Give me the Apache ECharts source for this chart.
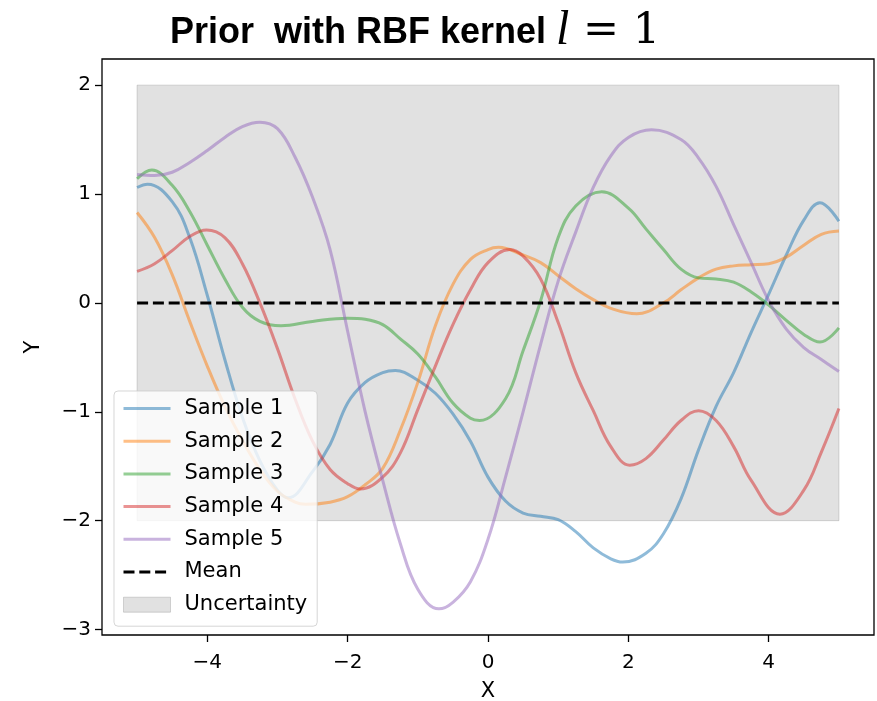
<!DOCTYPE html>
<html>
<head>
<meta charset="utf-8">
<script src="https://cdn.jsdelivr.net/npm/echarts@6/dist/echarts.min.js"></script>
<style>
  html, body { margin: 0; padding: 0; background: #fff; }
  #chart { width: 877px; height: 701px; }
</style>
</head>
<body>
<div id="chart"></div>
<script>
// Five prior draws, each sampled along x (extra points at the turning points)
const sample1X = [-5, -4.85, -4.5, -4.25, -4, -3.75, -3.5, -3.25, -3, -2.85, -2.5, -2.25, -2, -1.75, -1.5, -1.32, -1, -0.75, -0.5, -0.25,
                  0, 0.25, 0.5, 0.75, 1, 1.25, 1.5, 1.75, 1.92, 2.25, 2.5, 2.75, 3, 3.25, 3.5, 3.75, 4, 4.25, 4.5, 4.73, 5];
const sample1Y = [1.06, 1.09, 0.93, 0.60, 0.07, -0.52, -1.05, -1.45, -1.72, -1.79, -1.55, -1.30, -0.92, -0.73, -0.64, -0.62, -0.71, -0.83, -1.02, -1.27,
                  -1.60, -1.82, -1.93, -1.96, -1.99, -2.10, -2.25, -2.35, -2.38, -2.30, -2.12, -1.80, -1.35, -0.95, -0.64, -0.27, 0.08, 0.44, 0.76, 0.92, 0.75];

const sample2X = [-5, -4.75, -4.5, -4.25, -4, -3.75, -3.5, -3.25, -3, -2.75, -2.6, -2.25, -2, -1.75, -1.5, -1.25, -1, -0.75, -0.5, -0.25,
                  0, 0.15, 0.5, 0.75, 1, 1.25, 1.5, 1.75, 2.12, 2.5, 2.75, 3, 3.25, 3.5, 3.75, 4, 4.25, 4.5, 4.75, 5];
const sample2Y = [0.83, 0.60, 0.26, -0.17, -0.58, -0.95, -1.26, -1.53, -1.73, -1.83, -1.85, -1.83, -1.78, -1.67, -1.52, -1.17, -0.73, -0.21, 0.17, 0.40,
                  0.49, 0.51, 0.44, 0.37, 0.25, 0.13, 0.03, -0.05, -0.10, 0.00, 0.12, 0.23, 0.31, 0.34, 0.35, 0.36, 0.42, 0.53, 0.63, 0.66];

const sample3X = [-5, -4.79, -4.5, -4.25, -4, -3.75, -3.5, -3.25, -2.95, -2.5, -2, -1.75, -1.5, -1.25, -1, -0.75, -0.5, -0.25, -0.12,
                  0.25, 0.5, 0.75, 1, 1.25, 1.62, 2, 2.25, 2.5, 2.75, 3, 3.25, 3.5, 3.75, 4, 4.25, 4.5, 4.73, 5];
const sample3Y = [1.14, 1.22, 1.08, 0.84, 0.53, 0.22, -0.04, -0.17, -0.21, -0.17, -0.14, -0.15, -0.20, -0.33, -0.47, -0.68, -0.92, -1.06, -1.08,
                  -0.88, -0.44, 0.02, 0.60, 0.89, 1.02, 0.87, 0.68, 0.49, 0.31, 0.23, 0.22, 0.19, 0.10, -0.02, -0.16, -0.29, -0.36, -0.23];

const sample4X = [-5, -4.75, -4.5, -4.25, -4.01, -3.75, -3.5, -3.25, -3, -2.75, -2.5, -2.25, -2, -1.82, -1.5, -1.25, -1, -0.75, -0.5, -0.25,
                  0, 0.31, 0.5, 0.75, 1, 1.25, 1.5, 1.75, 2.02, 2.25, 2.5, 2.75, 3, 3.25, 3.5, 3.75, 4.16, 4.5, 4.75, 5];
const sample4Y = [0.29, 0.36, 0.48, 0.61, 0.67, 0.60, 0.36, 0.00, -0.42, -0.88, -1.27, -1.53, -1.66, -1.71, -1.60, -1.38, -0.98, -0.58, -0.20, 0.12,
                  0.37, 0.49, 0.43, 0.22, -0.18, -0.64, -0.99, -1.32, -1.49, -1.43, -1.26, -1.08, -0.99, -1.08, -1.32, -1.63, -1.94, -1.72, -1.37, -0.97];

const sample5X = [-5, -4.75, -4.5, -4.25, -4, -3.75, -3.5, -3.25, -3, -2.75, -2.5, -2.25, -2, -1.75, -1.5, -1.25, -1, -0.7, -0.5, -0.25,
                  0, 0.25, 0.5, 0.75, 1, 1.25, 1.5, 1.75, 2, 2.33, 2.75, 3, 3.25, 3.5, 3.75, 4, 4.25, 4.5, 4.75, 5];
const sample5Y = [1.18, 1.17, 1.20, 1.29, 1.40, 1.52, 1.62, 1.66, 1.60, 1.34, 0.97, 0.49, -0.26, -1.00, -1.63, -2.21, -2.63, -2.81, -2.75, -2.56,
                  -2.17, -1.60, -1.00, -0.38, 0.20, 0.65, 1.06, 1.35, 1.52, 1.59, 1.50, 1.33, 1.07, 0.72, 0.37, 0.02, -0.24, -0.41, -0.52, -0.63];

// Prior mean and ±2σ band
const meanX = [-5, 5];
const meanY = [0, 0];
const bandX = [-5, 5];
const bandLower = [-2, -2];
const bandUpper = [2, 2];

// Axis ticks
const xTicks = [-4, -2, 0, 2, 4];
const yTicks = [-3, -2, -1, 0, 1, 2];

const sampleNames = ['Sample 1', 'Sample 2', 'Sample 3', 'Sample 4', 'Sample 5'];
const sampleXs = [sample1X, sample2X, sample3X, sample4X, sample5X];
const sampleYs = [sample1Y, sample2Y, sample3Y, sample4Y, sample5Y];
const colors = ['#1f77b4', '#ff7f0e', '#2ca02c', '#d62728', '#9467bd'];

const bandFill = 'rgba(128,128,128,0.24)';
const bandEdge = 'rgba(128,128,128,0.3)';

const minus = v => (v < 0 ? '\u2212' + Math.abs(v) : String(v));

const chart = echarts.init(document.getElementById('chart'), null, { renderer: 'canvas' });

const sampleSeries = sampleYs.map((ys, i) => ({
  name: sampleNames[i],
  type: 'line',
  data: sampleXs[i].map((x, j) => [x, ys[j]]),
  smooth: 0.4,
  symbol: 'none',
  z: 3,
  lineStyle: { color: colors[i], width: 3, opacity: 0.5 },
  itemStyle: { color: colors[i] },
  emphasis: { disabled: true }
}));

const bandSeries = {
  name: 'Uncertainty',
  type: 'custom',
  z: 1,
  itemStyle: { color: bandFill, borderColor: bandEdge, borderWidth: 1 },
  data: [[bandX[0], bandLower[0], bandX[1], bandUpper[1]]],
  encode: { x: [0, 2], y: [1, 3] },
  renderItem: (params, api) => {
    const pts = [];
    for (let k = 0; k < bandX.length; k++) pts.push(api.coord([bandX[k], bandUpper[k]]));
    for (let k = bandX.length - 1; k >= 0; k--) pts.push(api.coord([bandX[k], bandLower[k]]));
    return {
      type: 'polygon',
      shape: { points: pts },
      style: { fill: bandFill, stroke: bandEdge, lineWidth: 1 }
    };
  },
  silent: true
};

const meanSeries = {
  name: 'Mean',
  type: 'line',
  data: meanX.map((x, j) => [x, meanY[j]]),
  symbol: 'none',
  z: 4,
  lineStyle: { color: '#000', width: 3, type: [11, 4.8] },
  itemStyle: { color: '#000' },
  emphasis: { disabled: true }
};

const tickFont = { fontFamily: 'DejaVu Sans', fontSize: 20, color: '#000' };

chart.setOption({
  animation: false,
  backgroundColor: '#fff',
  title: {
    left: 165,
    top: 2,
    text: '{a|Prior  with RBF kernel }{b|l}{c| = 1}',
    textStyle: {
      rich: {
        a: { fontFamily: 'Liberation Sans', fontWeight: 'bold', fontSize: 36, color: '#000', verticalAlign: 'bottom', padding: [0, 0, 4, 0] },
        b: { fontFamily: 'Liberation Serif', fontStyle: 'italic', fontWeight: 'normal', fontSize: 48, color: '#000', verticalAlign: 'bottom' },
        c: { fontFamily: 'DejaVu Serif', fontWeight: 'normal', fontSize: 43, color: '#000', verticalAlign: 'bottom', padding: [0, 0, 2, 0] }
      }
    }
  },
  grid: {
    left: 102, top: 59, right: 3, bottom: 66,
    outerBoundsMode: 'none',
    containLabel: false,
    show: true, borderColor: '#000', borderWidth: 1.3, backgroundColor: 'transparent'
  },
  legend: {
    orient: 'vertical',
    left: 114,
    top: 391,
    padding: [7, 10, 11, 8],
    itemWidth: 47,
    itemHeight: 15,
    itemGap: 11.7,
    backgroundColor: 'rgba(255,255,255,0.8)',
    borderColor: 'rgba(204,204,204,0.8)',
    borderWidth: 1,
    borderRadius: 4,
    itemStyle: { opacity: 0 },
    lineStyle: { width: 3 },
    textStyle: { fontFamily: 'DejaVu Sans', fontSize: 21, color: '#000', lineHeight: 20, padding: [0, 0, 0, 9] },
    data: [
      ...sampleNames.map(n => ({ name: n })),
      { name: 'Mean' },
      { name: 'Uncertainty', icon: 'rect', itemStyle: { opacity: 1, color: bandFill, borderColor: bandEdge, borderWidth: 1 } }
    ],
    selectedMode: false
  },
  xAxis: {
    type: 'value',
    min: -5.5, max: 5.5,
    name: 'X',
    nameLocation: 'middle',
    nameGap: 46,
    nameTextStyle: { fontFamily: 'DejaVu Sans', fontSize: 21, color: '#000' },
    axisLine: { show: false, onZero: false },
    axisTick: { show: true, length: 7, lineStyle: { color: '#000', width: 1.3 }, customValues: xTicks },
    axisLabel: { ...tickFont, margin: 18, customValues: xTicks, formatter: minus },
    splitLine: { show: false }
  },
  yAxis: {
    type: 'value',
    min: -3.05, max: 2.24,
    name: 'Y',
    nameLocation: 'middle',
    nameGap: 58,
    nameRotate: 90,
    nameTextStyle: { fontFamily: 'DejaVu Sans', fontSize: 21, color: '#000' },
    axisLine: { show: false, onZero: false },
    axisTick: { show: true, length: 7, lineStyle: { color: '#000', width: 1.3 }, customValues: yTicks },
    axisLabel: { ...tickFont, margin: 11, customValues: yTicks, formatter: minus },
    splitLine: { show: false }
  },
  series: [bandSeries, ...sampleSeries, meanSeries]
});
</script>
</body>
</html>
